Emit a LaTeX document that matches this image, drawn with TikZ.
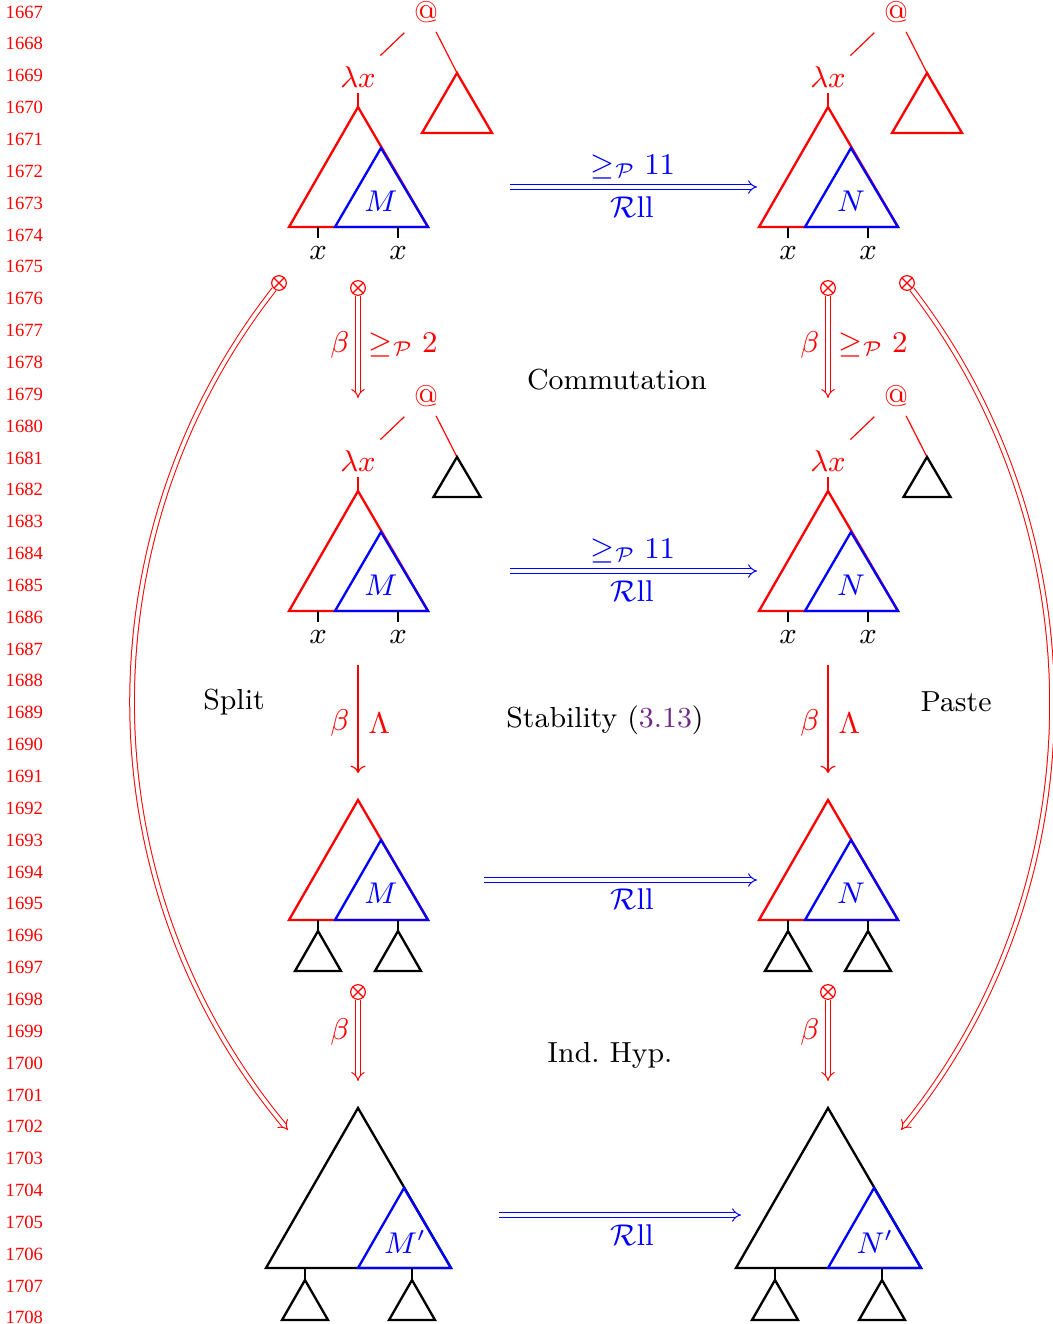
\documentclass[tikz,border=0pt]{standalone}
\usepackage{fontspec}
\newfontfamily\lnfont{Liberation Serif}
\usetikzlibrary{arrows.meta,calc}
\definecolor{linkpurple}{RGB}{110,40,135}
\begin{document}
\frenchspacing
\begin{tikzpicture}[x=0.3pt,y=-0.3pt,
  every node/.style={font=\fontsize{9}{11}\selectfont, inner sep=1pt},
  trired/.style={draw=red,line width=0.7pt},
  triblue/.style={draw=blue,line width=0.7pt},
  triblack/.style={draw=black,line width=0.7pt},
  tickline/.style={black,line width=0.35pt},
  edgered/.style={red,line width=0.35pt},
  dblarr/.style={double,double distance=1.1pt,line width=0.3pt,-{Implies}},
  sglarr/.style={line width=0.35pt,-{To[length=2.2pt,width=4.5pt]}},
  otimesnode/.style={circle,draw=red,line width=0.35pt,minimum size=4.4pt,inner sep=0pt,
    path picture={\draw[red,line width=0.35pt] (path picture bounding box.north west) -- (path picture bounding box.south east) (path picture bounding box.north east) -- (path picture bounding box.south west);}},
  lnum/.style={red,font=\lnfont\fontsize{5.6}{6.5}\selectfont,anchor=west,inner sep=0pt},
  bigtext/.style={font=\fontsize{8.7}{11}\selectfont}
]
\useasboundingbox (0,0) rectangle (1053,1324);

% line numbers
\foreach \i in {0,...,41}{
  \pgfmathtruncatemacro\lnn{1667+\i}
  \node[lnum] (ln\i) at (5,{12+31.85*\i}) {\lnn};
}

\foreach \dx/\v/\c in {0/M/L,470/N/R}{
\begin{scope}[xshift=\dx*0.3pt]
  % ---- row 1
  \node[red] (at1\c) at (426,12) {@};
  \node[red] (lam1\c) at (358,77) {$\lambda x$};
  \coordinate (sa1\c) at (457,73);
  \coordinate (ap1\c) at (358,107);
  \draw[edgered, shorten <=9pt, shorten >=9.3pt] (at1\c.center) -- (lam1\c.center);
  \draw[edgered, shorten <=6.7pt] (at1\c.center) -- (sa1\c);
  \draw[trired] (sa1\c) -- ++(35,60) -- ++(-70,0) -- cycle;
  \draw[edgered, shorten <=4.8pt] (lam1\c.center) -- (ap1\c);
  \draw[trired] (ap1\c) -- (428,227) -- (289,227) -- cycle;
  \draw[triblue] (381,148) -- (428,227) -- (335,227) -- cycle;
  \node[blue] (v1\c) at (381,201) {$\v$};
  \draw[tickline] (318,227) -- (318,238);
  \draw[tickline] (398,227) -- (398,238);
  \node (xa1\c) at (318,253) {$x$};
  \node (xb1\c) at (398,253) {$x$};
  % ---- arrow 1
  \node[otimesnode] (o1\c) at (358,288) {};
  \coordinate (t1\c) at (358,398);
  \draw[red,dblarr] (o1\c) -- (t1\c);
  \node[red,anchor=east,inner sep=0pt] (b1\c) at (350,345) {$\beta$};
  \node[red,anchor=west,inner sep=0pt] (g1\c) at (368,345) {$\geq_{\mathcal{P}} 2$};
  % ---- row 2
  \node[red] (at2\c) at (426,396) {@};
  \node[red] (lam2\c) at (358,461) {$\lambda x$};
  \coordinate (sa2\c) at (457,457);
  \coordinate (ap2\c) at (358,491);
  \draw[edgered, shorten <=9pt, shorten >=9.3pt] (at2\c.center) -- (lam2\c.center);
  \draw[edgered, shorten <=6.7pt] (at2\c.center) -- (sa2\c);
  \draw[triblack] (sa2\c) -- ++(23.5,40) -- ++(-47,0) -- cycle;
  \draw[edgered, shorten <=4.8pt] (lam2\c.center) -- (ap2\c);
  \draw[trired] (ap2\c) -- (428,611) -- (289,611) -- cycle;
  \draw[triblue] (381,532) -- (428,611) -- (335,611) -- cycle;
  \node[blue] (v2\c) at (381,585) {$\v$};
  \draw[tickline] (318,611) -- (318,622);
  \draw[tickline] (398,611) -- (398,622);
  \node (xa2\c) at (318,637) {$x$};
  \node (xb2\c) at (398,637) {$x$};
  % ---- arrow 2
  \coordinate (s2\c) at (358,665);
  \coordinate (t2\c) at (358,773);
  \draw[red,sglarr] (s2\c) -- (t2\c);
  \node[red,anchor=east,inner sep=0pt] (b2\c) at (350,723) {$\beta$};
  \node[red,anchor=west,inner sep=0pt] (g2\c) at (368,723) {$\Lambda$};
  % ---- row 3
  \coordinate (ap3\c) at (358,800);
  \draw[trired] (ap3\c) -- (428,920) -- (289,920) -- cycle;
  \draw[triblue] (381,840) -- (428,920) -- (335,920) -- cycle;
  \node[blue] (v3\c) at (381,893) {$\v$};
  \draw[tickline] (318,920) -- (318,931);
  \draw[tickline] (398,920) -- (398,931);
  \draw[triblack] (318,931) -- (341,971) -- (295,971) -- cycle;
  \draw[triblack] (398,931) -- (421,971) -- (375,971) -- cycle;
  % ---- arrow 3
  \node[otimesnode] (o3\c) at (358,992) {};
  \coordinate (t3\c) at (358,1081);
  \draw[red,dblarr] (o3\c) -- (t3\c);
  \node[red,anchor=east,inner sep=0pt] (b3\c) at (350,1032) {$\beta$};
  % ---- row 4
  \coordinate (ap4\c) at (358,1108);
  \draw[triblack] (ap4\c) -- (451,1268) -- (266,1268) -- cycle;
  \draw[triblue] (404,1188) -- (451,1268) -- (358,1268) -- cycle;
  \node[blue] (v4\c) at (405,1242) {$\v'$};
  \draw[tickline] (305,1268) -- (305,1280);
  \draw[tickline] (412,1268) -- (412,1280);
  \draw[triblack] (305,1280) -- (328,1320) -- (282,1320) -- cycle;
  \draw[triblack] (412,1280) -- (435,1320) -- (389,1320) -- cycle;
\end{scope}
}

% horizontal arrows
\coordinate (h1s) at (510,187); \coordinate (h1e) at (757,187);
\draw[blue,dblarr] (h1s) -- (h1e);
\node[blue] (h1a) at (633,167) {$\geq_{\mathcal{P}} 11$};
\node[blue] (h1b) at (632,207) {$\mathcal{R}\mathrm{ll}$};
\coordinate (h2s) at (510,571); \coordinate (h2e) at (757,571);
\draw[blue,dblarr] (h2s) -- (h2e);
\node[blue] (h2a) at (633,551) {$\geq_{\mathcal{P}} 11$};
\node[blue] (h2b) at (632,591) {$\mathcal{R}\mathrm{ll}$};
\coordinate (h3s) at (484,880); \coordinate (h3e) at (757,880);
\draw[blue,dblarr] (h3s) -- (h3e);
\node[blue] (h3b) at (632,899) {$\mathcal{R}\mathrm{ll}$};
\coordinate (h4s) at (499,1215); \coordinate (h4e) at (741,1215);
\draw[blue,dblarr] (h4s) -- (h4e);
\node[blue] (h4b) at (632,1235) {$\mathcal{R}\mathrm{ll}$};

% curved arrows
\node[otimesnode] (ocL) at (279,283) {};
\coordinate (ecL) at (288,1130);
\draw[red,dblarr] (ocL) .. controls (83,533) and (83,884) .. (ecL);
\node[otimesnode] (ocR) at (907,283) {};
\coordinate (ecR) at (901,1130);
\draw[red,dblarr] (ocR) .. controls (1100,533) and (1100,884) .. (ecR);

% texts
\node[bigtext] (comm) at (617,380) {Commutation};
\node[bigtext] (stab) at (605,720) {Stability (\textcolor{linkpurple}{3.13})};
\node[bigtext] (ih) at (610,1055) {Ind. Hyp.};
\node[bigtext] (split) at (234,702) {Split};
\node[bigtext] (paste) at (956,702) {Paste};
\end{tikzpicture}
\end{document}
